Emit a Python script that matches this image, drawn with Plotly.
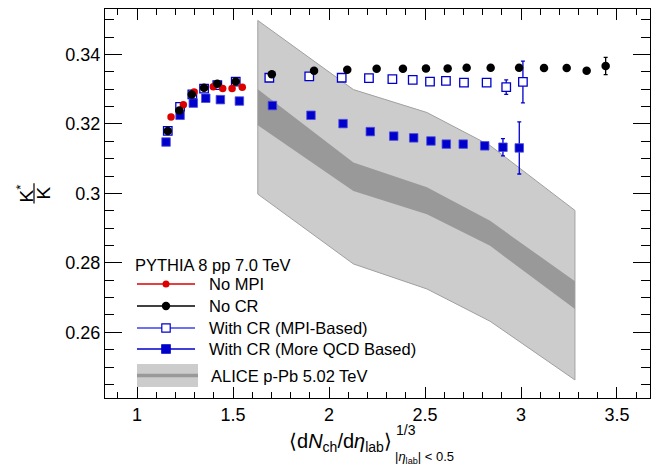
import plotly.graph_objects as go

# ---------------- data ----------------
nompi_x = [1.177, 1.241, 1.297, 1.349, 1.397, 1.446, 1.495, 1.548]
nompi_y = [0.3220, 0.3255, 0.3292, 0.3304, 0.3307, 0.3302, 0.3302, 0.3306]

nocr_x = [1.160, 1.220, 1.285, 1.349, 1.418, 1.514, 1.702, 1.922, 2.095, 2.248,
          2.385, 2.505, 2.618, 2.717, 2.842, 2.990, 3.120, 3.238, 3.342, 3.441]
nocr_y = [0.3180, 0.3239, 0.3285, 0.3304, 0.3316, 0.3322, 0.3343, 0.3353, 0.3356, 0.3359,
          0.3359, 0.3360, 0.3360, 0.3362, 0.3362, 0.3362, 0.3361, 0.3361, 0.3353, 0.3367]
nocr_err = [0, 0, 0, 0, 0, 0, 0, 0, 0, 0,
            0, 0, 0, 0, 0, 0, 0, 0, 0, 0.0025]

mpi_x = [1.160, 1.224, 1.288, 1.349, 1.418, 1.514, 1.689, 1.897, 2.066, 2.208,
         2.330, 2.436, 2.526, 2.609, 2.703, 2.821, 2.923, 3.010]
mpi_y = [0.3180, 0.3249, 0.3285, 0.3302, 0.3312, 0.3322, 0.3333, 0.3337, 0.3333, 0.3332,
         0.3329, 0.3327, 0.3322, 0.3324, 0.3319, 0.3319, 0.3306, 0.3321]
mpi_err = [0, 0, 0, 0, 0, 0, 0, 0, 0, 0,
           0, 0, 0, 0, 0, 0, 0.0021, 0.0060]

qcd_x = [1.151, 1.224, 1.293, 1.358, 1.434, 1.533, 1.705, 1.906, 2.073, 2.215,
         2.337, 2.441, 2.531, 2.611, 2.699, 2.811, 2.906, 2.991]
qcd_y = [0.3148, 0.3225, 0.3260, 0.3274, 0.3270, 0.3266, 0.3253, 0.3225, 0.3201, 0.3178,
         0.3165, 0.3160, 0.3151, 0.3142, 0.3142, 0.3137, 0.3133, 0.3131]
qcd_err = [0, 0, 0, 0, 0, 0, 0, 0, 0, 0,
           0, 0, 0, 0, 0, 0, 0.0025, 0.0075]

alice_x = [1.629, 2.127, 2.510, 2.839, 3.281]
alice_y = [0.3248, 0.3048, 0.2979, 0.2885, 0.2707]
alice_stat = [0.0052, 0.0041, 0.0039, 0.0036, 0.0040]
alice_sys = [0.0250, 0.0251, 0.0254, 0.0253, 0.0244]

x_ticks = [1, 1.5, 2, 2.5, 3, 3.5]
x_ticktext = ["1", "1.5", "2", "2.5", "3", "3.5"]
y_ticks = [0.26, 0.28, 0.30, 0.32, 0.34]
y_ticktext = ["0.26", "0.28", "0.3", "0.32", "0.34"]

legend_header = "PYTHIA 8 pp 7.0 TeV"
legend_names = ["No MPI", "No CR", "With CR (MPI-Based)", "With CR (More QCD Based)"]
alice_name = "ALICE p-Pb 5.02 TeV"

# ---------------- styling ----------------
FONT = "Liberation Sans, Arial, Helvetica, sans-serif"
RED = "#dd0000"
BLACK = "#000000"
BLUE = "#0000cc"
LIGHTBLUE = "#4040ee"

# page is offset by the 8px body margin; positions below are in screenshot pixels
OFF = 8
W, H = 672 - OFF, 470 - OFF
L, R, T, B = 105, 650, 9, 398


def px2paper_x(px):
    return (px - L) / (R - L)


def px2paper_y(py):
    return (B - py) / (B - T)


def band(xs, ys, errs):
    bx = list(xs) + list(xs)[::-1]
    by = [y + e for y, e in zip(ys, errs)] + [y - e for y, e in zip(ys, errs)][::-1]
    return bx + [bx[0]], by + [by[0]]


fig = go.Figure()

ox, oy = band(alice_x, alice_y, alice_sys)
fig.add_trace(go.Scatter(x=ox, y=oy, mode="lines", fill="toself", fillcolor="#cccccc",
                         line=dict(color="#a0a0a0", width=1), hoverinfo="skip"))
ix, iy = band(alice_x, alice_y, alice_stat)
fig.add_trace(go.Scatter(x=ix, y=iy, mode="lines", fill="toself", fillcolor="#999999",
                         line=dict(width=0), hoverinfo="skip"))

fig.add_trace(go.Scatter(x=mpi_x, y=mpi_y, mode="markers", name=legend_names[2],
                         marker=dict(symbol="square", size=8.5, color="white",
                                     line=dict(color=BLUE, width=1.3)),
                         error_y=dict(type="data", array=mpi_err, color=BLUE,
                                      thickness=1.3, width=2)))
fig.add_trace(go.Scatter(x=qcd_x, y=qcd_y, mode="markers", name=legend_names[3],
                         marker=dict(symbol="square", size=8.5, color=BLUE,
                                     line=dict(color="#4d4de0", width=0.8)),
                         error_y=dict(type="data", array=qcd_err, color=BLUE,
                                      thickness=1.3, width=2)))
fig.add_trace(go.Scatter(x=nompi_x, y=nompi_y, mode="markers", name=legend_names[0],
                         marker=dict(symbol="circle", size=7.5, color=RED)))
fig.add_trace(go.Scatter(x=nocr_x, y=nocr_y, mode="markers", name=legend_names[1],
                         marker=dict(symbol="circle", size=8.5, color=BLACK),
                         error_y=dict(type="data", array=nocr_err, color=BLACK,
                                      thickness=1.3, width=2)))

axis_common = dict(showline=True, linecolor="black", linewidth=1.3, mirror="allticks",
                   ticks="inside", tickcolor="black", tickwidth=1.2, showgrid=False,
                   zeroline=False, tickfont=dict(family=FONT, size=18, color="black"))

fig.update_layout(
    width=W, height=H,
    margin=dict(l=L - OFF, r=W - (R - OFF), t=T - OFF, b=H - (B - OFF), pad=0),
    paper_bgcolor="white", plot_bgcolor="white",
    font=dict(family=FONT, color="black"),
    showlegend=False,
    xaxis=dict(range=[0.833, 3.672], tickvals=x_ticks, ticktext=x_ticktext, ticklen=11,
               minor=dict(dtick=0.1, ticks="inside", ticklen=6, tickcolor="black",
                          tickwidth=1.2),
               **axis_common),
    yaxis=dict(range=[0.2411, 0.3531], tickvals=y_ticks, ticktext=y_ticktext, ticklen=17,
               minor=dict(dtick=0.005, ticks="inside", ticklen=9, tickcolor="black",
                          tickwidth=1.2),
               **axis_common),
)

# ---------------- legend (drawn as decoration) ----------------
LEG_FONT = dict(family=FONT, size=16.5, color="black")
fig.add_annotation(text=legend_header, xref="paper", yref="paper", x=px2paper_x(133),
                   y=px2paper_y(265), xanchor="left", yanchor="middle", showarrow=False,
                   font=LEG_FONT)
row_y = [284, 306, 328, 349]
line_cols = [RED, BLACK, LIGHTBLUE, BLUE]
for i, name in enumerate(legend_names):
    yy = px2paper_y(row_y[i])
    fig.add_shape(type="line", xref="paper", yref="paper", x0=px2paper_x(137),
                  x1=px2paper_x(195), y0=yy, y1=yy, line=dict(color=line_cols[i], width=1.3))
    cx = px2paper_x(166)
    if i < 2:
        r = 3.5 if i == 0 else 4.2
        fig.add_shape(type="circle", xref="paper", yref="paper", xsizemode="pixel",
                      ysizemode="pixel", xanchor=cx, yanchor=yy, x0=-r, x1=r, y0=-r, y1=r,
                      fillcolor=line_cols[i], line=dict(width=0))
    else:
        filled = i == 3
        fig.add_shape(type="rect", xref="paper", yref="paper", xsizemode="pixel",
                      ysizemode="pixel", xanchor=cx, yanchor=yy, x0=-4.2, x1=4.2,
                      y0=-4.2, y1=4.2, fillcolor=BLUE if filled else "white",
                      line=dict(color=BLUE, width=1.2))
    fig.add_annotation(text=name, xref="paper", yref="paper", x=px2paper_x(207), y=yy,
                       xanchor="left", yanchor="middle", showarrow=False, font=LEG_FONT)

fig.add_shape(type="rect", xref="paper", yref="paper", x0=px2paper_x(137),
              x1=px2paper_x(198), y0=px2paper_y(387), y1=px2paper_y(364),
              fillcolor="#cccccc", line=dict(width=0))
fig.add_shape(type="line", xref="paper", yref="paper", x0=px2paper_x(137),
              x1=px2paper_x(198), y0=px2paper_y(375.5), y1=px2paper_y(375.5),
              line=dict(color="#999999", width=3.5))
fig.add_annotation(text=alice_name, xref="paper", yref="paper", x=px2paper_x(209),
                   y=px2paper_y(376), xanchor="left", yanchor="middle", showarrow=False,
                   font=LEG_FONT)

# ---------------- y-axis title: fraction K*/K ----------------
fig.add_annotation(text="K<sup>*</sup>", xref="paper", yref="y", x=px2paper_x(25), y=0.300,
                   textangle=-90, showarrow=False, xanchor="center", yanchor="middle",
                   font=dict(family=FONT, size=19))
fig.add_annotation(text="K", xref="paper", yref="y", x=px2paper_x(43), y=0.300,
                   textangle=-90, showarrow=False, xanchor="center", yanchor="middle",
                   font=dict(family=FONT, size=19))
fig.add_shape(type="line", xref="paper", yref="y", x0=px2paper_x(34), x1=px2paper_x(34),
              y0=0.2971, y1=0.3029, line=dict(color="black", width=1.2))

# ---------------- x-axis title ----------------
fig.add_annotation(text="\u27e8d<i>N</i><sub>ch</sub>/d<i>\u03b7</i><sub>lab</sub>\u27e9",
                   xref="paper", yref="paper", x=px2paper_x(394), y=px2paper_y(442),
                   xanchor="right", yanchor="middle", showarrow=False,
                   font=dict(family=FONT, size=20))
fig.add_annotation(text="1/3", xref="paper", yref="paper", x=px2paper_x(394),
                   y=px2paper_y(430), xanchor="left", yanchor="middle", showarrow=False,
                   font=dict(family=FONT, size=14))
fig.add_annotation(text="|<i>\u03b7</i><sub>lab</sub>| < 0.5", xref="paper", yref="paper",
                   x=px2paper_x(393), y=px2paper_y(457), xanchor="left", yanchor="middle",
                   showarrow=False, font=dict(family=FONT, size=13))

fig.write_html("out.html")
